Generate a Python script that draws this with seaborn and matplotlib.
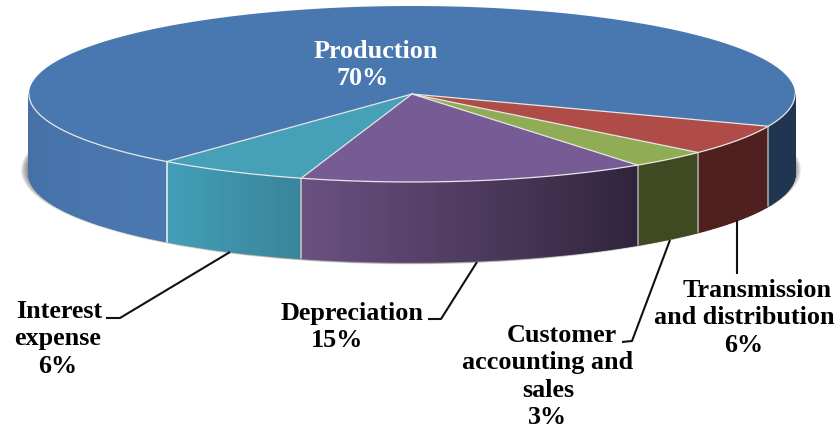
import numpy as np
import matplotlib
matplotlib.use("Agg")
import matplotlib.pyplot as plt
from matplotlib.patches import Ellipse, Polygon
import seaborn as sns

sns.set_theme(style="white")
plt.rcParams['font.family'] = ['Liberation Serif', 'DejaVu Serif']

# clockwise from the right edge of the disc
categories = ["Transmission\nand distribution", "Customer\naccounting and\nsales",
              "Depreciation", "Interest\nexpense", "Production"]
shares = [5.6, 3.4, 14.7, 6.4, 69.9]
top_colors = ["#b04c48", "#90ac55", "#775b95", "#45a0b8", "#4978b0"]
# wall colours, going clockwise (right to left on the front of the disc)
side_colors = [("#4f201e", "#4f201e"), ("#404a22", "#404a22"), ("#30243c", "#6a5080"),
               ("#39859c", "#429fb8"), ("#4a78b0", "#4470a5")]
production_right = ("#1f3550", "#1f3550")

cx, cy, rx, ry, depth = 412, 94, 383, 88, 80
start_angle = 21.5


def rim(t, drop=0):
    t = np.radians(t)
    return cx + rx * np.cos(t), cy + ry * np.sin(t) + drop


def draw_side(ax, t0, t1, colors):
    steps = max(int(t1 - t0) * 2, 2)
    edges = np.linspace(t0, t1, steps + 1)
    for a, b, c in zip(edges[:-1], edges[1:], sns.blend_palette(colors, steps)):
        s = np.linspace(a, b, 4)
        x, y = rim(s)
        xb, yb = rim(s[::-1], depth)
        ax.add_patch(Polygon(np.r_[np.c_[x, y], np.c_[xb, yb]], fc=c, ec=c, lw=1.0, zorder=3))


fig = plt.figure(figsize=(8.37, 4.28), dpi=100)
ax = fig.add_axes([0, 0, 1, 1])
ax.set_xlim(0, 837)
ax.set_ylim(428, 0)
ax.axis("off")

# soft shadow under the disc
for grow in np.linspace(7, 0, 10):
    ax.add_patch(Ellipse((cx - 1, cy + depth - 4), 2 * (rx + grow), 2 * (ry + 5 + grow * 0.2),
                         fc="#444444", ec="none", alpha=0.09, zorder=1))

bounds = start_angle + np.r_[0, np.cumsum(shares)] * 3.6
segments = list(zip(bounds[:-1], bounds[1:]))

# outer wall, front half only
for (a, b), colors in zip(segments, side_colors):
    if b <= 180:
        draw_side(ax, a, b, colors)
    elif a < 180:
        draw_side(ax, a, 180, colors)
draw_side(ax, 0, start_angle, production_right)

for t, c in zip(bounds[:5], ["#b0b0b0", "#b0b0b0", "#b0b0b0", "#c8c8c8", "#f4f4f4"]):
    x, y = rim(t)
    ax.plot([x, x], [y, y + depth], color=c, lw=1.1, zorder=4)

# top face
for (a, b), c in zip(segments, top_colors):
    s = np.linspace(a, b, 200)
    x, y = rim(s)
    pts = np.r_[[[cx, cy]], np.c_[x, y]]
    ax.add_patch(Polygon(pts, fc=c, ec="none", zorder=5))
for t in bounds[:-1]:
    x, y = rim(t)
    ax.plot([cx, x], [cy, y], color="#e6e6e6", lw=0.9, zorder=6)
s = np.linspace(0, 180, 300)
x, y = rim(s)
ax.plot(x, y, color="#e8e8e8", lw=0.9, zorder=6)

# leader lines
leaders = [[(737, 220), (737, 274)],
           [(670, 240), (632, 341), (622, 342)],
           [(477, 262), (441, 319), (428, 319)],
           [(230, 252), (120, 318), (106, 318)]]
for line in leaders:
    xs, ys = zip(*line)
    ax.plot(xs, ys, color="#111111", lw=1.5, zorder=7, solid_capstyle="butt")

# labels, the first line of each sits a bit right of the others in the original
label_x = [744, 548, 337, 58, 363]
label_y = [297, 342, 320, 318, 58]
first_shift = [13.5, 14, 15, 1, 12.5]
for name, share, x, y, dx, col in zip(categories, shares, label_x, label_y, first_shift,
                                      ["black"] * 4 + ["white"]):
    lines = name.split("\n") + [f"{round(share)}%"]
    for i, line in enumerate(lines):
        ax.text(x + (dx if i == 0 else 0), y + 27.4 * i, line, ha="center", va="baseline",
                color=col, fontsize=18.8, fontweight="bold", zorder=8)

fig.savefig("out.png", dpi=100)
